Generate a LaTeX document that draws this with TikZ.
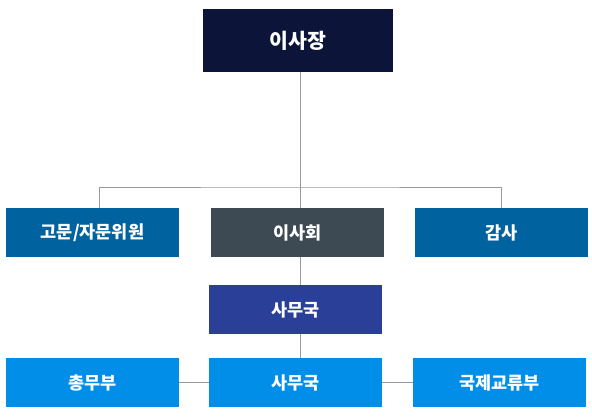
\documentclass[tikz,border=0pt]{standalone}
\usepackage{fontspec}
\setmainfont{Noto Sans CJK KR}
\definecolor{chairnavy}{HTML}{0C1539}
\definecolor{sidesteel}{HTML}{00629E}
\definecolor{boardslate}{HTML}{3D4A53}
\definecolor{officeblue}{HTML}{2A3F98}
\definecolor{deptblue}{HTML}{008EE8}
\definecolor{linkgray}{HTML}{999999}
\begin{document}
\begin{tikzpicture}[x=1pt, y=-1pt,
  orgbox/.style={rectangle, inner sep=0pt, minimum width=173pt, minimum height=49pt, text=white, font=\fontsize{17.5}{20}\selectfont\bfseries},
  link/.style={draw=linkgray, line width=1pt}]
\useasboundingbox (0,0) rectangle (592,416);

\node[orgbox, fill=chairnavy, minimum width=190pt, minimum height=63pt, font=\fontsize{20.5}{24}\selectfont\bfseries] (chair) at (298,40.5) {이사장};

\node[orgbox, fill=sidesteel] (advisor) at (92.5,232.5) {고문/자문위원};
\node[orgbox, fill=boardslate] (board) at (297.5,232.5) {이사회};
\node[orgbox, fill=sidesteel] (audit) at (501.5,232.5) {감사};

\node[orgbox, fill=officeblue] (office) at (295.5,309.5) {사무국};

\node[orgbox, fill=deptblue] (admin) at (92.5,382.5) {총무부};
\node[orgbox, fill=deptblue] (secretariat) at (295.5,382.5) {사무국};
\node[orgbox, fill=deptblue] (intl) at (499.5,382.5) {국제교류부};

\coordinate (branch) at (300,187);

\draw[link] ([xshift=2pt]chair.south) -- ([xshift=2.5pt]board.north);
\draw[link] ([xshift=6.5pt]advisor.north) |- (branch) -| (audit.north);
\draw[link] ([xshift=2.5pt]board.south) -- ([xshift=4.5pt]office.north);
\draw[link] ([xshift=4.5pt]office.south) -- ([xshift=4.5pt]secretariat.north);
\draw[link] (admin) -- (secretariat);
\draw[link] (secretariat) -- (intl);
\end{tikzpicture}
\end{document}
